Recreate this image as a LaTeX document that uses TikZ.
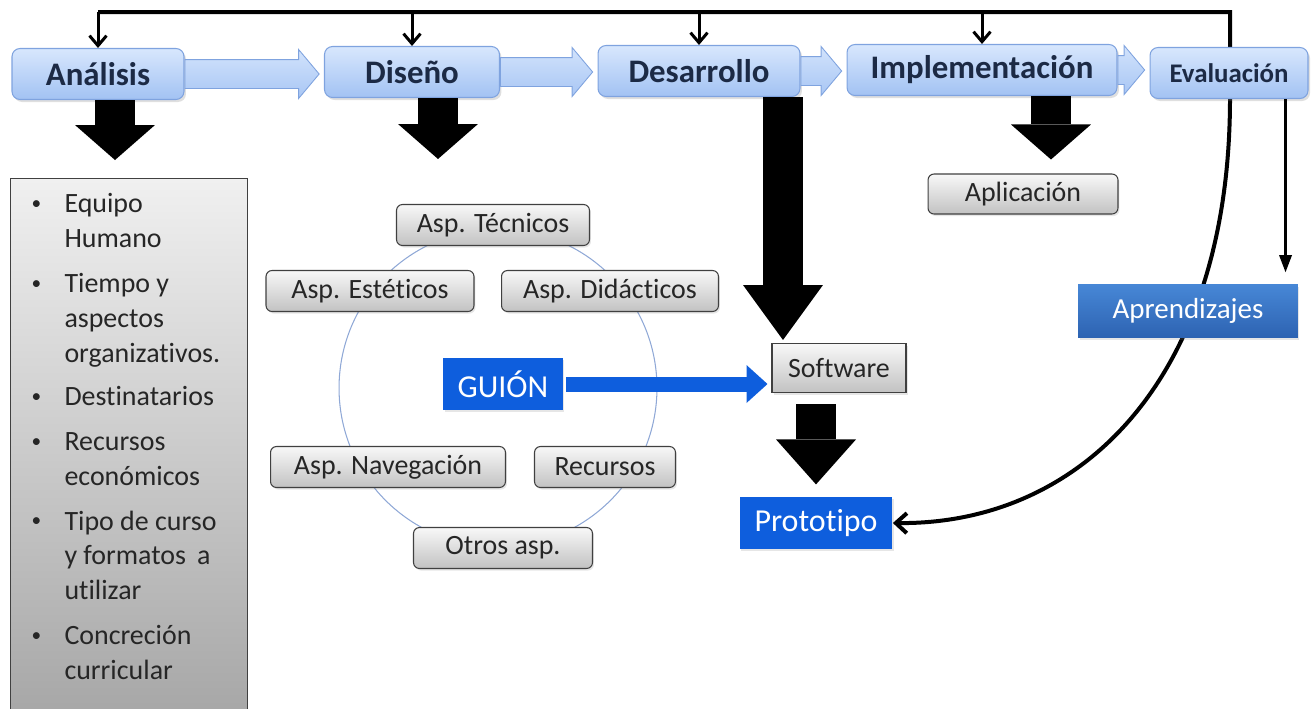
\documentclass[tikz,border=0pt]{standalone}
\usepackage{fontspec}
\setmainfont{Carlito}[Ligatures=NoCommon]
\usetikzlibrary{arrows.meta, positioning, shapes.arrows, shadows, calc}
\pgfdeclarelayer{background}
\pgfsetlayers{background,main}

\definecolor{phasetop}{HTML}{D8E7FD}
\definecolor{phasebot}{HTML}{A2C2F3}
\definecolor{phaseline}{HTML}{7FA3DF}
\definecolor{phasetext}{HTML}{1C2A45}
\definecolor{flowtop}{HTML}{D2E3FC}
\definecolor{flowbot}{HTML}{A8C6F4}
\definecolor{graytop}{HTML}{F8F8F8}
\definecolor{graybot}{HTML}{C2C2C2}
\definecolor{listtop}{HTML}{F0F0F0}
\definecolor{listbot}{HTML}{A6A6A6}
\definecolor{guionblue}{HTML}{0E5EDD}
\definecolor{aprtop}{HTML}{4787D6}
\definecolor{aprbot}{HTML}{2D63B2}
\definecolor{ringblue}{HTML}{8FA8D6}

\tikzset{
  phase/.style={rectangle, rounded corners=0.16cm, top color=phasetop, bottom color=phasebot,
    draw=phaseline, line width=0.6pt, text=phasetext, inner sep=0pt, minimum height=1.02cm,
    font=\fontsize{18.7}{22}\selectfont\bfseries,
    drop shadow={opacity=0.25, shadow xshift=0.04cm, shadow yshift=-0.05cm}},
  gbox/.style={rectangle, rounded corners=0.12cm, top color=graytop, bottom color=graybot,
    draw=black!75, line width=0.6pt, text=black!85, inner sep=0pt, minimum height=0.82cm,
    font=\fontsize{15.9}{19}\selectfont,
    drop shadow={opacity=0.2, shadow xshift=0.03cm, shadow yshift=-0.04cm}},
  bluebox/.style={rectangle, fill=guionblue, text=white, inner sep=0pt, minimum height=1.05cm,
    font=\fontsize{18.2}{22}\selectfont,
    drop shadow={opacity=0.2, shadow xshift=0.03cm, shadow yshift=-0.04cm}},
  listbox/.style={rectangle, top color=listtop, bottom color=listbot, draw=black!75,
    line width=0.6pt, inner sep=0pt, text=black!85, font=\fontsize{15.9}{19.8}\selectfont},
  flow/.style={single arrow, top color=flowtop, bottom color=flowbot, draw=phaseline,
    line width=0.5pt, inner xsep=0pt, inner ysep=0.28cm, minimum width=0.96cm,
    single arrow head extend=0.2cm, single arrow tip angle=100},
  blk/.style={line width=0.8cm, black, -{Triangle[length=#1, width=1.6cm, line width=0pt]}},
  blk/.default=0.7cm,
  fbline/.style={line width=0.08cm, black},
  fbdrop/.style={line width=0.06cm, black, -{Straight Barb[length=0.2cm, width=0.34cm]}},
  thinarr/.style={line width=0.045cm, black, -{Triangle[length=0.34cm, width=0.26cm, line width=0pt]}}
}

\newcommand{\flowarrow}[2]{%
  \path let \p1=(#1.east), \p2=(#2.west), \n1={\x2-\x1-3pt} in
    node[flow, minimum height=\n1, anchor=tail] at (\p1) {};}
\newcommand{\bul}{\raisebox{0.12em}{\fontsize{11}{11}\selectfont\textbullet}}

\begin{document}
\begin{tikzpicture}[x=0.02cm, y=-0.02cm]
  \useasboundingbox (0,0) rectangle (1314,708);

  % fases
  \node[phase, minimum width=3.44cm] (ana) at (98,74) {Análisis};
  \node[phase, minimum width=3.5cm] (dis) at (412,72) {Diseño};
  \node[phase, minimum width=4.04cm] (dev) at (699,71) {Desarrollo};
  \node[phase, minimum width=5.4cm] (imp) at (982,70) {Implementación};
  \node[phase, minimum width=3.16cm, font=\fontsize{15.3}{18}\selectfont\bfseries] (eva) at (1229,73) {Evaluación};

  \flowarrow{ana}{dis}
  \flowarrow{dis}{dev}
  \flowarrow{dev}{imp}
  \flowarrow{imp}{eva}

  % analisis
  \node[listbox, anchor=north west] (lst) at (10,178) {%
    \begin{minipage}[t][10.84cm][t]{4.74cm}
    \vspace*{0.2cm}\hspace*{0.42cm}%
    \begin{tabular}[t]{@{}p{0.66cm}@{}l@{}}
      \bul & Equipo\\
           & Humano\\[0.2cm]
      \bul & Tiempo y\\
           & aspectos\\
           & organizativos.\\[0.18cm]
      \bul & Destinatarios\\[0.2cm]
      \bul & Recursos\\
           & económicos\\[0.2cm]
      \bul & Tipo de curso\\
           & y formatos \,a\\
           & utilizar\\[0.2cm]
      \bul & Concreción\\
           & curricular
    \end{tabular}
    \end{minipage}};

  % diseño
  \draw[ringblue, line width=0.6pt] (498,388) circle [radius=3.18cm];
  \node[gbox, minimum width=3.86cm] (tec) at (493,225) {Asp. Técnicos};
  \node[gbox, minimum width=4.16cm] (est) at (370,291) {Asp. Estéticos};
  \node[gbox, minimum width=4.34cm] (did) at (610,291) {Asp. Didácticos};
  \node[gbox, minimum width=4.7cm] (nav) at (388,467) {Asp. Navegación};
  \node[gbox, minimum width=2.82cm] (rec) at (605,467) {Recursos};
  \node[gbox, minimum width=3.58cm] (otr) at (503,548) {Otros asp.};
  \node[bluebox, minimum width=2.4cm, minimum height=1.04cm] (gui) at (503,384) {GUIÓN};

  % desarrollo
  \node[gbox, rounded corners=0pt, minimum width=2.68cm, minimum height=0.98cm] (sw) at (839,368) {Software};
  \node[bluebox, minimum width=3.06cm] (proto) at (816,523) {Prototipo};

  % implementacion
  \node[gbox, minimum width=3.8cm, minimum height=0.8cm] (app) at (1023,194) {Aplicación};

  % retroalimentacion
  \coordinate (fbr) at (1230,12);
  \coordinate (evb) at (1230,98);
  \begin{pgfonlayer}{background}
    \draw[fbline, -{Straight Barb[length=0.22cm, width=0.4cm]}] (ana.north |- fbr) -- (fbr) -- (evb)
      .. controls (1230,380) and (1080,525) .. (proto.east);
  \end{pgfonlayer}
  \draw[fbdrop] (ana.north |- fbr) -- (ana.north);
  \draw[fbdrop] (dis.north |- fbr) -- (dis.north);
  \draw[fbdrop] (dev.north |- fbr) -- (dev.north);
  \draw[fbdrop] (imp.north |- fbr) -- (imp.north);

  % evaluacion
  \node[bluebox, top color=aprtop, bottom color=aprbot, minimum width=4.4cm, minimum height=1.06cm,
    font=\fontsize{16.5}{20}\selectfont] (apr) at (1188,311) {Aprendizajes};
  \coordinate (evr) at ([xshift=-0.46cm]eva.south east);
  \draw[thinarr, shorten >=0.24cm] (evr) -- (evr |- apr.north);

  % flechas de bloque
  \coordinate (anaout) at ([xshift=0.34cm]ana.south);
  \coordinate (disout) at ([xshift=0.52cm]dis.south);
  \coordinate (devout) at ([xshift=1.68cm]dev.south);
  \coordinate (impout) at ([xshift=1.38cm]imp.south);
  \draw[blk, shorten >=0.36cm] (anaout) -- (anaout |- lst.north);
  \draw[blk, shorten >=0.9cm] (disout) -- (disout |- tec.north);
  \draw[blk=0.7cm, shorten >=0.28cm] (impout) -- (impout |- app.north);
  \draw[blk=1.1cm, shorten >=0.06cm] (devout) -- (devout |- sw.north);
  \draw[blk=0.9cm, shorten <=0.22cm, shorten >=0.24cm] (sw.south -| proto.north) -- (proto.north);
  \draw[guionblue, line width=0.3cm, -{Triangle[length=0.42cm, width=0.76cm, line width=0pt]},
    shorten <=0.06cm, shorten >=0.08cm] (gui.east) -- (gui.east -| sw.west);
\end{tikzpicture}
\end{document}
